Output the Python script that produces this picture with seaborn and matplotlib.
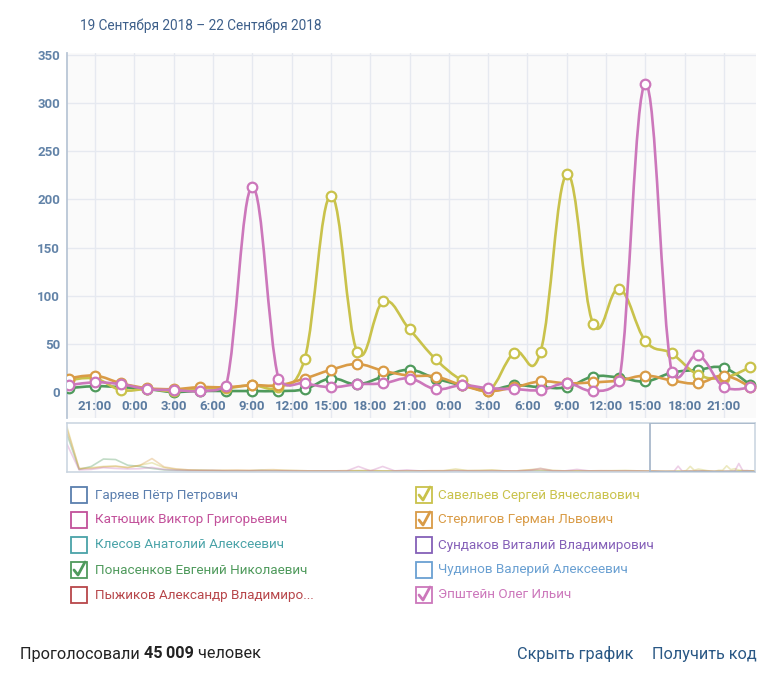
import numpy as np
import pandas as pd
import matplotlib
matplotlib.use("Agg")
import matplotlib.pyplot as plt
import matplotlib.dates as mdates
from matplotlib.path import Path
from matplotlib.patches import PathPatch, Rectangle
from matplotlib.lines import Line2D
import seaborn as sns

# ---- data ----
title = "19 Сентября 2018 – 22 Сентября 2018"
start = pd.Timestamp("2018-09-19 19:00")
times = pd.date_range(start, periods=27, freq="2h")

ponasenkov = [4, 6, 5, 3, 0, 1, 1, 1, 1, 3, 14, 8, 16, 23, 14, 7, 2, 7, 5, 5, 16, 15, 11, 20, 23, 25, 7]
savelyev = [12, 14, 2, 3, 1, 4, 4, 7, 5, 34, 204, 42, 94, 65, 34, 12, 1, 41, 42, 226, 71, 107, 53, 40, 18, 15, 26]
sterligov = [14, 17, 9, 4, 3, 5, 5, 7, 7, 14, 23, 29, 22, 17, 16, 7, 1, 5, 11, 9, 10, 12, 17, 12, 9, 17, 5]
epshtein = [7, 10, 8, 3, 2, 1, 6, 213, 14, 9, 5, 8, 9, 14, 3, 7, 4, 3, 2, 9, 1, 11, 320, 21, 38, 5, 5]

series_names = ["Понасенков", "Савельев", "Стерлигов", "Эпштейн"]
series_values = [ponasenkov, savelyev, sterligov, epshtein]
series_colors = ["#4f9a5c", "#c9c24b", "#d99b46", "#cc77bb"]

# navigator history before the visible window (6 hour steps)
nav_times = pd.date_range(start - pd.Timedelta(hours=288), periods=48, freq="6h")
nav_ponasenkov = [1500, 80, 200, 500, 480, 250, 200, 120, 60, 40, 30, 40, 30, 20, 20, 20,
                  40, 20, 15, 10, 10, 15, 10, 10, 20, 10, 10, 10, 10, 15, 10, 10,
                  20, 10, 10, 10, 10, 10, 20, 30, 10, 10, 10, 10, 10, 10, 10, 10]
nav_savelyev = [1800, 100, 150, 200, 220, 150, 250, 350, 150, 80, 60, 40, 40, 30, 25, 20,
                20, 40, 40, 30, 20, 15, 15, 20, 25, 30, 20, 20, 15, 15, 20, 20,
                100, 30, 40, 60, 20, 15, 60, 120, 40, 20, 30, 20, 20, 30, 40, 20]
nav_sterligov = [1700, 120, 120, 180, 200, 160, 240, 520, 180, 100, 60, 50, 40, 50, 60, 50,
                 60, 70, 40, 30, 20, 20, 20, 30, 30, 30, 20, 20, 20, 20, 30, 30,
                 40, 30, 30, 40, 20, 20, 60, 60, 30, 20, 20, 20, 30, 20, 20, 20]
nav_epshtein = [1100, 60, 80, 150, 120, 100, 110, 160, 80, 50, 40, 30, 40, 20, 20, 20,
                20, 20, 20, 15, 15, 15, 20, 10, 200, 20, 200, 20, 60, 20, 15, 15,
                20, 20, 15, 15, 20, 20, 30, 120, 20, 20, 80, 20, 20, 15, 15, 15]
nav_values = [nav_ponasenkov, nav_savelyev, nav_sterligov, nav_epshtein]

legend_left = ["Гаряев Пётр Петрович", "Катющик Виктор Григорьевич", "Клесов Анатолий Алексеевич",
               "Понасенков Евгений Николаевич", "Пыжиков Александр Владимиро..."]
legend_right = ["Савельев Сергей Вячеславович", "Стерлигов Герман Львович", "Сундаков Виталий Владимирович",
                "Чудинов Валерий Алексеевич", "Эпштейн Олег Ильич"]
legend_left_colors = ["#5b7fae", "#c2509a", "#4aa3a8", "#4f9a5c", "#b7464a"]
legend_right_colors = ["#c9c24b", "#d99b46", "#8560b8", "#6aa0d2", "#cc77bb"]
legend_left_checked = [False, False, False, True, False]
legend_right_checked = [True, True, False, False, True]

voters = "45\u2009009"

W, H = 776, 680


def fx(x):
    return x / W


def fy(y):
    return 1 - y / H


def spline_path(xs, ys, smoothing=1.5, floor=0.0):
    # smooth curve through the points; control points kept above the floor
    n = len(xs)
    left = [(xs[i], ys[i]) for i in range(n)]
    right = [(xs[i], ys[i]) for i in range(n)]
    denom = smoothing + 1
    for i in range(1, n - 1):
        px, py = xs[i], ys[i]
        lx, ly = xs[i - 1], ys[i - 1]
        nx, ny = xs[i + 1], ys[i + 1]
        lcx = (smoothing * px + lx) / denom
        lcy = (smoothing * py + ly) / denom
        rcx = (smoothing * px + nx) / denom
        rcy = (smoothing * py + ny) / denom
        corr = 0
        if rcx != lcx:
            corr = (rcy - lcy) * (rcx - px) / (rcx - lcx) + py - rcy
        left[i] = (lcx, max(lcy + corr, floor))
        right[i] = (rcx, max(rcy + corr, floor))
    verts = [(xs[0], ys[0])]
    codes = [Path.MOVETO]
    for i in range(1, n):
        verts += [right[i - 1], left[i], (xs[i], ys[i])]
        codes += [Path.CURVE4] * 3
    return Path(verts, codes)


sns.set_style("white")
plt.rcParams["font.family"] = ["Roboto", "DejaVu Sans"]

fig = plt.figure(figsize=(W / 100, H / 100), dpi=100)

# ---- main chart ----
ax = fig.add_axes([fx(67), fy(418), fx(756) - fx(67), (418 - 53) / H])
ax.set_facecolor("#fafafa")

df = pd.DataFrame({"time": np.tile(times, len(series_names)),
                   "votes": np.concatenate(series_values),
                   "name": np.repeat(series_names, len(times))})

xnum = mdates.date2num(times)
for k, (name, color) in enumerate(zip(series_names, series_colors)):
    sub = df[df["name"] == name]
    path = spline_path(list(xnum), list(sub["votes"].astype(float)))
    ax.add_patch(PathPatch(path, fill=False, edgecolor=color, lw=1.9, zorder=3 + k * 2,
                           capstyle="round", joinstyle="round"))
    sns.scatterplot(data=sub, x="time", y="votes", ax=ax, color="white", edgecolor=color,
                    s=48, linewidth=1.6, zorder=4 + k * 2, legend=False)

x_left = start - pd.Timedelta(minutes=8)
x_right = times[-1] + pd.Timedelta(minutes=26)
ax.set_xlim(x_left, x_right)
ax.set_ylim(-27, 352)
ax.set_yticks(range(0, 351, 50))
ax.xaxis.set_major_locator(mdates.HourLocator(byhour=range(0, 24, 3)))
ax.xaxis.set_major_formatter(mdates.DateFormatter("%-H:%M"))
ax.grid(True, color="#e6e9f0", lw=1)
ax.set_axisbelow(True)
ax.set_xlabel("")
ax.set_ylabel("")
ax.tick_params(axis="y", length=0, pad=5, labelsize=9.5, labelcolor="#6283a8")
ax.tick_params(axis="x", length=0, pad=-13, labelsize=9.5, labelcolor="#5b7ba0")
for lab in ax.get_yticklabels() + ax.get_xticklabels():
    lab.set_fontweight("bold")
for s in ["top", "right", "bottom"]:
    ax.spines[s].set_visible(False)
ax.spines["left"].set_color("#b9c6d6")
ax.spines["left"].set_linewidth(1.3)
for gl, v in zip(ax.get_ygridlines(), ax.get_yticks()):
    if v == 0:
        gl.set_visible(False)

# ---- navigator ----
nav = fig.add_axes([fx(67), fy(472), fx(755) - fx(67), (472 - 423) / H])
nav.set_facecolor("white")
for vals_hist, vals_main, color in zip(nav_values, series_values, series_colors):
    nd = pd.DataFrame({"time": list(nav_times) + list(times),
                       "votes": list(vals_hist) + list(vals_main)})
    sns.lineplot(data=nd, x="time", y="votes", ax=nav, color=color, alpha=0.35, lw=1.2)
nav.set_xlim(nav_times[0], times[-1])
nav.set_ylim(-25, 1960)
nav.set_xticks([])
nav.set_yticks([])
nav.set_xlabel("")
nav.set_ylabel("")
for s in nav.spines.values():
    s.set_color("#c8d3df")
    s.set_linewidth(1.1)
nav.add_patch(Rectangle((mdates.date2num(x_left), -25),
                        mdates.date2num(x_right) - mdates.date2num(x_left), 1985,
                        fill=False, edgecolor="#a9b9cb", lw=1.3, zorder=10))

# ---- title ----
fig.text(fx(80), fy(26), title, fontsize=9.8, color="#3d5f8a", va="center", ha="left")

# ---- legend ----
def draw_item(x_box, x_text, y, label, color, checked):
    fig.patches.append(Rectangle((fx(x_box), fy(y + 8)), 16 / W, 16 / H, transform=fig.transFigure,
                                 fill=False, edgecolor=color, lw=1.3))
    fig.text(fx(x_text), fy(y), label, fontsize=9.7, color=color, va="center", ha="left")
    if checked:
        fig.lines.append(Line2D([fx(x_box + 3), fx(x_box + 7), fx(x_box + 14)],
                                [fy(y), fy(y + 5), fy(y - 8)], transform=fig.transFigure,
                                color=color, lw=2.0, solid_capstyle="round"))


rows_y = [495, 520, 545, 570, 595]
for y, lab, c, ch in zip(rows_y, legend_left, legend_left_colors, legend_left_checked):
    draw_item(71, 95, y, lab, c, ch)
for y, lab, c, ch in zip(rows_y, legend_right, legend_right_colors, legend_right_checked):
    draw_item(416, 438, y, lab, c, ch)

# ---- footer ----
fs = 11.7
t1 = fig.text(fx(20), fy(654), "Проголосовали ", fontsize=fs, color="#222222", va="center", ha="left")
fig.canvas.draw()
r = fig.canvas.get_renderer()
bb = t1.get_window_extent(r)
t2 = fig.text(bb.x1 / fig.bbox.width, fy(654), voters, fontsize=fs, fontweight="bold",
              color="#222222", va="center", ha="left")
bb2 = t2.get_window_extent(r)
fig.text(bb2.x1 / fig.bbox.width, fy(654), " человек", fontsize=fs, color="#222222",
         va="center", ha="left")
fig.text(fx(517), fy(654), "Скрыть график", fontsize=fs, color="#2a5885", va="center", ha="left")
fig.text(fx(652), fy(654), "Получить код", fontsize=fs, color="#2a5885", va="center", ha="left")

fig.savefig("out.png", dpi=100)
